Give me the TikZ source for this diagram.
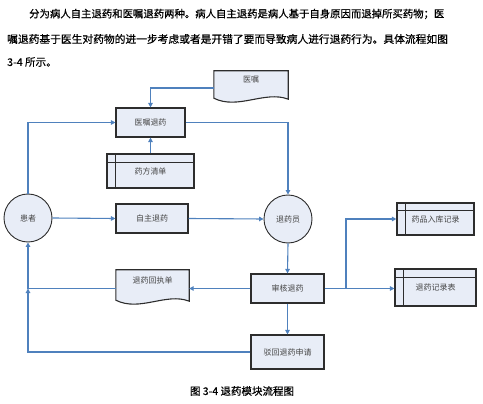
\documentclass[tikz,border=0pt]{standalone}
\usepackage{fontspec}
\setmainfont{Noto Sans CJK SC}
\newfontfamily\bodyfont[FakeBold=0.6]{Noto Sans CJK SC}
\usetikzlibrary{arrows.meta,calc}
\definecolor{conn}{RGB}{79,129,189}
\definecolor{boxfill}{RGB}{232,237,247}
\definecolor{boxedge}{RGB}{45,45,45}
\definecolor{lbl}{RGB}{70,70,70}
\tikzset{
  box/.style={draw=boxedge, line width=1.1pt, fill=boxfill, inner sep=0pt,
    font=\fontsize{8}{9}\selectfont, text=lbl},
  circ/.style={circle, draw=boxedge, line width=0.9pt, fill=boxfill, minimum size=48pt,
    inner sep=0pt, font=\fontsize{8}{9}\selectfont, text=lbl},
  ghost/.style={inner sep=0pt, font=\fontsize{8}{9}\selectfont, text=lbl},
  edge/.style={draw=boxedge, line width=1.1pt, fill=boxfill},
  inner/.style={draw=boxedge, line width=1.1pt},
  link/.style={draw=conn, line width=1.1pt},
  arr/.style={link, -{Triangle[length=4.5pt,width=4.5pt]}},
  para/.style={anchor=west, inner sep=0pt},
}
\begin{document}
\begin{tikzpicture}[x=1pt,y=-1pt]
\useasboundingbox (0,0) rectangle (483,404);
% paragraph
\node[para, font=\bodyfont\fontsize{10.38}{12}\selectfont] (p1) at (29,14)
  {分为病人自主退药和医嘱退药两种。病人自主退药是病人基于自身原因而退掉所买药物；医};
\node[para, font=\bodyfont\fontsize{10.75}{12}\selectfont] (p2) at (7,39)
  {嘱退药基于医生对药物的进一步考虑或者是开错了要而导致病人进行退药行为。具体流程如图};
\node[para, font=\bodyfont\fontsize{10.6}{12}\selectfont] (p3) at (7,62)
  {3-4 所示。};

% document: 医嘱
\node[ghost, minimum width=74pt, minimum height=32pt] (yz) at (251,87) {};
\path[edge] (yz.north west) -- (yz.north east) -- ($(yz.south east)+(0,-4)$)
  .. controls ($(yz.south east)+(-23,-13)$) and ($(yz.south west)+(24,7)$) .. ($(yz.south west)+(0,-5)$) -- cycle;
\node[ghost] at ($(yz.center)+(0,-7)$) {医嘱};

% 医嘱退药
\node[box, minimum width=69pt, minimum height=29pt] (yzty) at (150.5,122.5) {医嘱退药};
% data store 药方清单
\node[box, minimum width=87pt, minimum height=34pt] (yfqd) at (150.5,171) {药方清单};
\draw[inner] ($(yfqd.north west)+(9,0)$) -- ($(yfqd.south west)+(9,0)$);
\draw[inner] ($(yfqd.north west)+(0,9)$) -- ($(yfqd.north east)+(0,9)$);

% circles
\node[circ] (hz) at (28,218) {患者};
\node[circ] (tyy) at (288,219) {退药员};

% 自主退药
\node[box, minimum width=72pt, minimum height=29pt] (zzty) at (152,218.5) {自主退药};

% data stores right
\node[box, minimum width=77pt, minimum height=32pt] (ypr) at (435.5,219) {药品入库记录};
\draw[inner] ($(ypr.north west)+(9,0)$) -- ($(ypr.south west)+(9,0)$);
\draw[inner] ($(ypr.north west)+(0,8)$) -- ($(ypr.north east)+(0,8)$);
\node[box, minimum width=81pt, minimum height=37pt] (tyjl) at (435.5,287.5) {退药记录表};
\draw[inner] ($(tyjl.north west)+(9,0)$) -- ($(tyjl.south west)+(9,0)$);
\draw[inner] ($(tyjl.north west)+(0,9)$) -- ($(tyjl.north east)+(0,9)$);

% 审核退药
\node[box, minimum width=73pt, minimum height=29pt] (shty) at (287.5,288.5) {审核退药};

% document 退药回执单
\node[ghost, minimum width=73pt, minimum height=35pt] (tyhz) at (152.5,287.5) {};
\path[edge] (tyhz.north west) -- (tyhz.north east) -- ($(tyhz.south east)+(0,-4)$)
  .. controls ($(tyhz.south east)+(-23,-13)$) and ($(tyhz.south west)+(24,7)$) .. ($(tyhz.south west)+(0,-5)$) -- cycle;
\node[ghost] at ($(tyhz.center)+(0,-7)$) {退药回执单};

% 驳回退药申请
\node[box, minimum width=73pt, minimum height=34pt] (bh) at (287.5,352) {驳回退药申请};

% caption
\node[inner sep=0pt, font=\bodyfont\fontsize{10.5}{12}\selectfont] (cap) at (242,391) {图 3-4 退药模块流程图};

% junctions
\coordinate (j1) at (346,288.5);
\coordinate (j2) at (28,288.5);

% connectors
\draw[arr] (yz.west |- 0,88) -| (yzty.north);
\draw[arr] (yfqd.north) -- (yzty.south);
\draw[arr] (hz.north) |- (yzty.west);
\draw[arr] (yzty.east) -| (tyy.north);
\draw[arr] (hz.east) -- (zzty.west);
\draw[arr] (zzty.east) -- (tyy.west);
\draw[arr] (tyy.south) -- (shty.north);
\draw[arr] (shty.east) -- (shty.east -| tyjl.west);
\draw[arr] (shty.east) -- (j1) |- (ypr.west);
\draw[arr] (shty.west) -- (shty.west -| tyhz.east);
\draw[arr] (tyhz.west |- shty.west) -| (hz.south);
\draw[arr] (shty.south) -- (bh.north);
\draw[arr] (bh.west) -| (j2);
\end{tikzpicture}
\end{document}
